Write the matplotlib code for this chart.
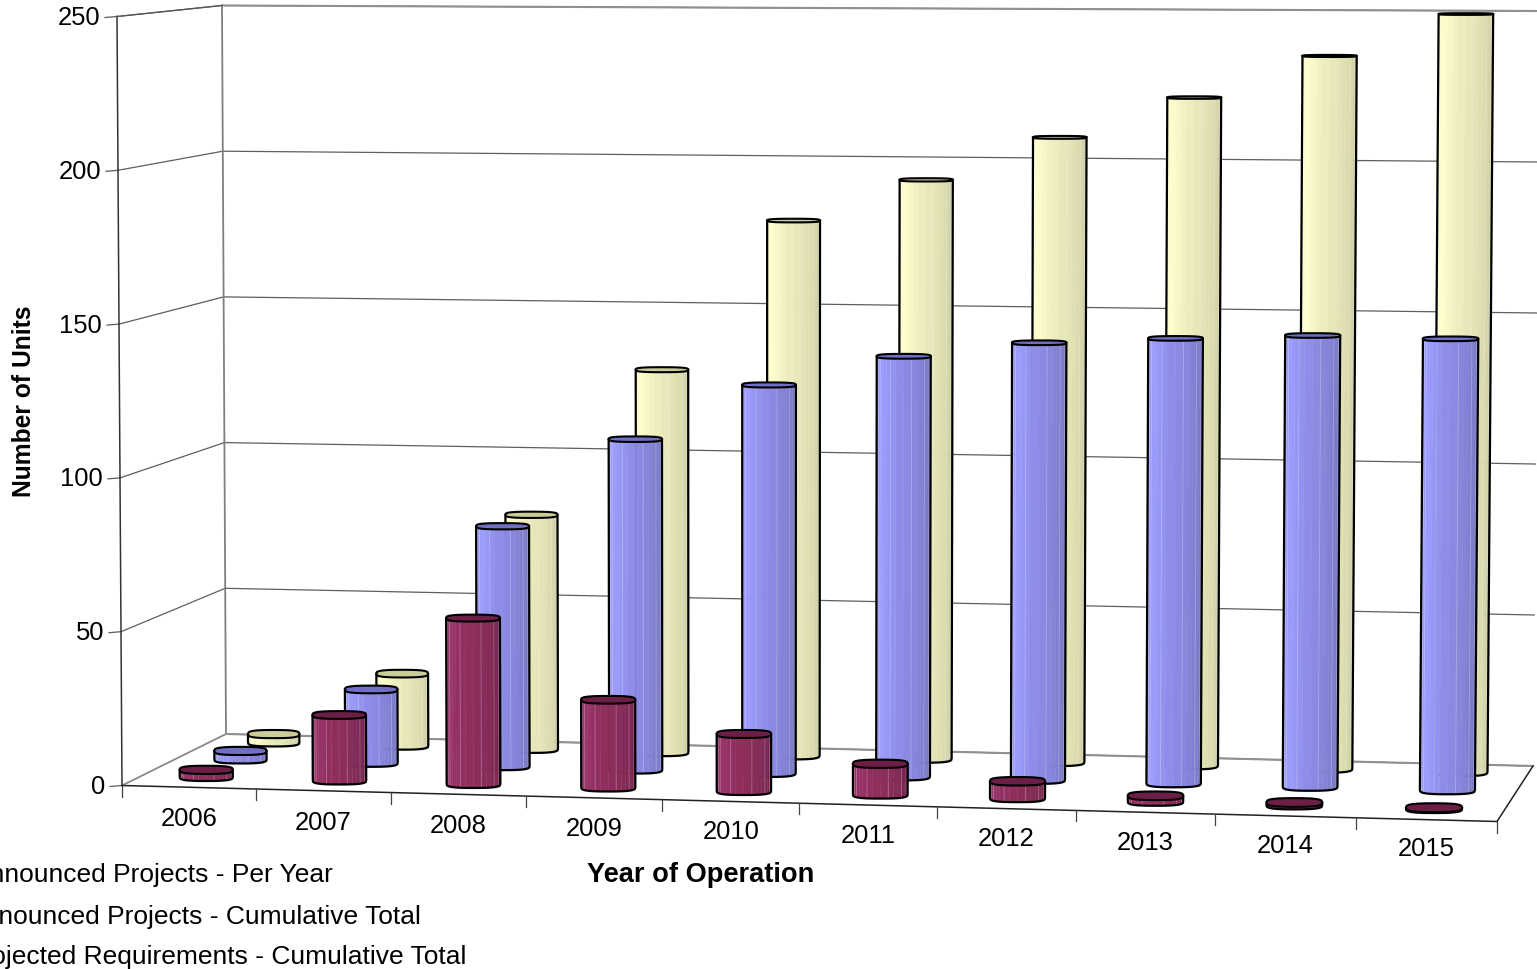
import numpy as np
import matplotlib
matplotlib.use("Agg")
import matplotlib.pyplot as plt
from matplotlib.colors import LinearSegmentedColormap
from matplotlib.collections import PolyCollection

plt.rcParams['font.family'] = ['Liberation Sans', 'DejaVu Sans']

years = ['2006', '2007', '2008', '2009', '2010', '2011', '2012', '2013', '2014', '2015']
per_year = [3, 22, 54.5, 29, 19, 10.5, 6, 2.5, 1.5, 1]
cumulative = [3.5, 25, 80, 109.5, 128, 138, 143, 145, 146.5, 146]
projected = [3.5, 25, 79.5, 129, 179.5, 193.5, 208, 221.5, 235.5, 249.5]
y_ticks = [0, 50, 100, 150, 200, 250]

legend_names = ['Announced Projects - Per Year',
                'Announced Projects - Cumulative Total',
                'Projected Requirements - Cumulative Total']

# box corners of the 3D plot on the canvas, in pixels
FL0, FR0 = np.array([122., 786.5]), np.array([1497., 822.5])
BL0, BR0 = np.array([226., 735.]), np.array([1533., 767.])
FL1, FR1 = np.array([117., 17.5]), np.array([1503., 22.5])
BL1, BR1 = np.array([222., 6.5]), np.array([1539., 12.])
VMAX = 250.
PERSP = 1.03
RX = 0.2     # cylinder radius along the category axis
RD = 0.08    # cylinder radius along the depth axis
BASE = 0.7   # bars sit a little above the floor plane

zcount = [3]


def next_z():
    zcount[0] += 1
    return zcount[0]


def project(u, d, v):
    s = u / 10.
    t = s / (s + (1 - s) * PERSP)
    bottom = (FL0 + (FR0 - FL0) * t) * (1 - d) + (BL0 + (BR0 - BL0) * t) * d
    top = (FL1 + (FR1 - FL1) * t) * (1 - d) + (BL1 + (BR1 - BL1) * t) * d
    return bottom + (top - bottom) * v / VMAX


def ellipse_at(u, d, v, angles):
    # squared-off ellipse, gives the flat bases and sharp shoulders
    c = project(u, d, v)
    rx = (project(u + RX, d, v)[0] - project(u - RX, d, v)[0]) / 2
    ry = abs(project(u, d + RD, v)[1] - project(u, d - RD, v)[1]) / 2
    ca, sa = np.cos(angles), np.sin(angles)
    return (c[0] + rx * np.sign(ca) * np.abs(ca) ** .75,
            c[1] + ry * np.sign(sa) * np.abs(sa) ** .6)


def cylinder(ax, u, d, v, cmap, top_color):
    # body runs from the left side round the front to the right side
    angles = np.radians(np.linspace(180, 0, 17))
    xb, yb = ellipse_at(u, d, BASE, angles)
    xt, yt = ellipse_at(u, d, v, angles)
    quads = []
    cols = []
    for i in range(len(angles) - 1):
        quads.append([(xb[i], yb[i]), (xb[i + 1], yb[i + 1]), (xt[i + 1], yt[i + 1]), (xt[i], yt[i])])
        cols.append(cmap((i + .5) / (len(angles) - 1)))
    ax.add_collection(PolyCollection(quads, facecolors=cols, edgecolors=cols, linewidths=.3, zorder=next_z()))

    # light seams between some of the facets
    for i in [2, 3, 6, 9, 12, 14]:
        ax.plot([xb[i], xt[i]], [yb[i], yt[i]], color='white', alpha=.22, lw=.7,
                solid_capstyle='butt', zorder=next_z())

    # outline of the body
    ax.plot(np.r_[xt[0], xb, xt[-1]], np.r_[yt[0], yb, yt[-1]], color='black', lw=1.6,
            solid_joinstyle='miter', zorder=next_z())

    # lid
    full = np.radians(np.linspace(0, 360, 25))
    xl, yl = ellipse_at(u, d, v, full)
    ax.fill(xl, yl, facecolor=top_color, edgecolor='black', lw=1.5, joinstyle='miter', zorder=next_z())


fig = plt.figure(figsize=(15.37, 9.70), dpi=100)
ax = fig.add_axes([0, 0, 1, 1])
ax.set_xlim(0, 1537)
ax.set_ylim(970, 0)
ax.axis('off')

GRID = '#5e5e5e'

# walls and gridlines
for v in y_ticks:
    a, b, c = project(0, 0, v), project(0, 1, v), project(10, 1, v)
    ax.plot([a[0], b[0]], [a[1], b[1]], color=GRID, lw=.9, zorder=1)
    ax.plot([b[0], c[0]], [b[1], c[1]], color=GRID, lw=.9, zorder=1)
    ax.plot([a[0] - 12, a[0]], [a[1] + 1, a[1]], color=GRID, lw=.9, zorder=1)
    ax.text(a[0] - 17, a[1] + .5, str(v), ha='right', va='center', fontsize=18.4, color='black')

a, b = project(0, 1, 0), project(0, 1, VMAX)
ax.plot([a[0], b[0]], [a[1], b[1]], color='#808080', lw=1.3, zorder=1)
b, c = project(0, 1, VMAX), project(10, 1, VMAX)
ax.plot([b[0], c[0]], [b[1], c[1]], color='#909090', lw=1.5, zorder=1)
a, c = project(0, 1, 0), project(10, 1, 0)
ax.plot([a[0], c[0]], [a[1], c[1]], color='#909090', lw=1.5, zorder=1)
a, b = project(0, 0, 0), project(0, 1, 0)
ax.plot([a[0], b[0]], [a[1], b[1]], color='#909090', lw=1.2, zorder=1)

# front edges of the box
a, b = project(0, 0, 0), project(0, 0, VMAX)
ax.plot([a[0], b[0]], [a[1], b[1]], color='#333333', lw=1.1, zorder=2)
b = project(0, 1, VMAX)
ax.plot([project(0, 0, VMAX)[0], b[0]], [project(0, 0, VMAX)[1], b[1]], color='#555555', lw=.9, zorder=2)
c = project(10, 0, 0)
ax.plot([a[0], c[0]], [a[1], c[1]], color='#222222', lw=1.1, zorder=2)
d = project(10, 1, 0)
ax.plot([c[0], d[0]], [c[1], d[1]], color='#222222', lw=1.1, zorder=2)

# bars, back row first
maps = {
    'yellow': LinearSegmentedColormap.from_list('y', [(0, '#f6f6c6'), (.25, '#ffffcc'), (.55, '#e6e6b8'), (.85, '#d2d2a8'), (1, '#c4c49c')]),
    'blue': LinearSegmentedColormap.from_list('b', [(0, '#9393f0'), (.25, '#9c9cff'), (.6, '#8686dc'), (1, '#7272bc')]),
    'red': LinearSegmentedColormap.from_list('r', [(0, '#90305f'), (.25, '#993366'), (.65, '#852c58'), (1, '#6e2249')]),
}
rows = [(projected, .83, maps['yellow'], '#cccc99'),
        (cumulative, .5, maps['blue'], '#6f6fc4'),
        (per_year, .16, maps['red'], '#6b1f47')]
for values, depth, cmap, top_color in rows:
    for i, val in enumerate(values):
        cylinder(ax, i + .51, depth, val, cmap, top_color)

# category ticks and labels
for i in range(len(years) + 1):
    p = project(i, 0, 0)
    ax.plot([p[0], p[0]], [p[1], p[1] + 11], color='#444444', lw=.9, zorder=2)
for i, name in enumerate(years):
    p = project(i + .5, 0, 0)
    ax.text(p[0], p[1] + 31 - 2.3 * i / 9, name, ha='center', va='center', fontsize=18.4, color='black')

ax.text(24, 401, 'Number of Units', rotation=90, ha='center', va='center', fontsize=17.7, fontweight='bold')
ax.text(701, 875, 'Year of Operation', ha='center', va='center', fontsize=19.6, fontweight='bold')

# legend runs off the left side of the canvas
for name, right, y in zip(legend_names, [333, 421, 466], [875, 917, 957]):
    ax.text(right, y, name, ha='right', va='center', fontsize=19, color='black')

fig.savefig('out.png', dpi=100)
